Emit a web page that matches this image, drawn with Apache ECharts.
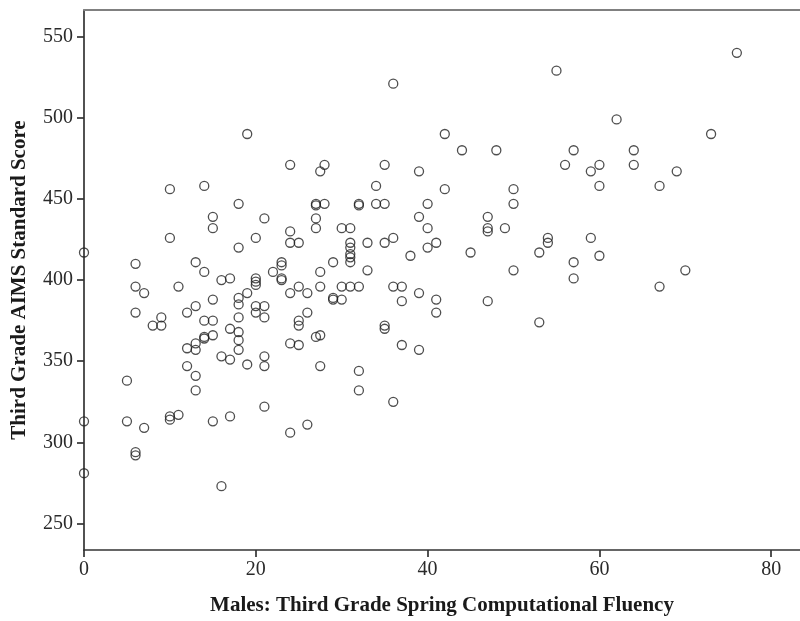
<!DOCTYPE html>
<html>
<head>
<meta charset="utf-8">
<script src="https://cdn.jsdelivr.net/npm/echarts@6/dist/echarts.min.js"></script>
<style>
  html, body { margin: 0; padding: 0; background: #fff; }
  #chart { width: 800px; height: 621px; }
</style>
</head>
<body>
<div id="chart"></div>
<script>
// Third grade spring computational fluency (males) vs. AIMS standard score
const fluency = [
  0, 0, 0,
  5, 5,
  6, 6, 6, 6, 6,
  7, 7,
  8,
  9, 9,
  10, 10, 10, 10,
  11, 11,
  12, 12, 12,
  13, 13, 13, 13, 13, 13,
  14, 14, 14, 14, 14,
  15, 15, 15, 15, 15, 15,
  16, 16, 16,
  17, 17, 17, 17,
  18, 18, 18, 18, 18, 18, 18, 18,
  19, 19, 19,
  20, 20, 20, 20, 20, 20,
  21, 21, 21, 21, 21, 21,
  22,
  23, 23, 23, 23,
  24, 24, 24, 24, 24, 24,
  25, 25, 25, 25, 25,
  26, 26, 26,
  27, 27, 27, 27, 27,
  27.5, 27.5, 27.5, 27.5, 27.5,
  28, 28,
  29, 29, 29,
  30, 30, 30,
  31, 31, 31, 31, 31, 31, 31,
  32, 32, 32, 32, 32,
  33, 33,
  34, 34,
  35, 35, 35, 35, 35,
  36, 36, 36, 36,
  37, 37, 37,
  38,
  39, 39, 39, 39,
  40, 40, 40,
  41, 41, 41,
  42, 42,
  44,
  45,
  47, 47, 47, 47,
  48,
  49,
  50, 50, 50,
  53, 53,
  54, 54,
  55,
  56,
  57, 57, 57,
  59, 59,
  60, 60, 60,
  62,
  64, 64,
  67, 67,
  69,
  70,
  73,
  76
];

const aimsScore = [
  417, 313, 281,
  338, 313,
  410, 396, 380, 294, 292,
  392, 309,
  372,
  377, 372,
  456, 426, 316, 314,
  396, 317,
  380, 358, 347,
  411, 384, 361, 357, 341, 332,
  458, 405, 375, 365, 364,
  439, 432, 388, 375, 366, 313,
  400, 353, 273,
  401, 370, 351, 316,
  447, 420, 389, 385, 377, 368, 363, 357,
  490, 392, 348,
  426, 401, 399, 397, 384, 380,
  438, 384, 377, 353, 347, 322,
  405,
  411, 409, 401, 400,
  471, 430, 423, 392, 361, 306,
  423, 396, 375, 372, 360,
  392, 380, 311,
  447, 446, 438, 432, 365,
  467, 405, 396, 366, 347,
  471, 447,
  411, 389, 388,
  432, 396, 388,
  432, 423, 420, 416, 414, 411, 396,
  447, 446, 396, 344, 332,
  423, 406,
  458, 447,
  471, 447, 423, 372, 370,
  521, 426, 396, 325,
  396, 387, 360,
  415,
  467, 439, 392, 357,
  447, 432, 420,
  423, 388, 380,
  490, 456,
  480,
  417,
  439, 432, 430, 387,
  480,
  432,
  456, 447, 406,
  417, 374,
  426, 423,
  529,
  471,
  480, 411, 401,
  467, 426,
  471, 458, 415,
  499,
  480, 471,
  458, 396,
  467,
  406,
  490,
  540
];

const xTicks = [0, 20, 40, 60, 80];
const yTicks = [250, 300, 350, 400, 450, 500, 550];

const xTitle = 'Males: Third Grade Spring Computational Fluency';
const yTitle = 'Third Grade AIMS Standard Score';

const points = fluency.map((x, i) => [x, aimsScore[i]]);

const serif = '"Liberation Serif", "DejaVu Serif", serif';
const axisLineStyle = { color: '#333333', width: 1.7 };
const X_MIN = 0, X_MAX = 83.35;

const chart = echarts.init(document.getElementById('chart'), null, { renderer: 'canvas' });
chart.setOption({
  animation: false,
  backgroundColor: '#ffffff',
  grid: { left: 84, right: 0, top: 10, bottom: 70, show: false },
  xAxis: [{
    type: 'value',
    min: X_MIN,
    max: X_MAX,
    name: xTitle,
    nameLocation: 'middle',
    nameGap: 45,
    nameTextStyle: { fontFamily: serif, fontWeight: 'bold', fontSize: 21, color: '#1a1a1a' },
    axisLine: { show: true, lineStyle: axisLineStyle },
    axisTick: { show: true, length: 7, customValues: xTicks, lineStyle: axisLineStyle },
    axisLabel: { customValues: xTicks, fontFamily: serif, fontSize: 20, color: '#2a2a2a', margin: 10 },
    splitLine: { show: false }
  }, {
    // top frame line of the plot box
    type: 'value',
    position: 'top',
    min: X_MIN,
    max: X_MAX,
    axisLine: { show: true, onZero: false, lineStyle: { color: '#808080', width: 2 } },
    axisTick: { show: false },
    axisLabel: { show: false },
    splitLine: { show: false }
  }],
  yAxis: {
    type: 'value',
    min: 233.7,
    max: 566.4,
    name: yTitle,
    nameLocation: 'middle',
    nameGap: 54,
    nameTextStyle: { fontFamily: serif, fontWeight: 'bold', fontSize: 21, color: '#1a1a1a' },
    axisLine: { show: true, lineStyle: axisLineStyle },
    axisTick: { show: true, length: 7, customValues: yTicks, lineStyle: axisLineStyle },
    axisLabel: { customValues: yTicks, fontFamily: serif, fontSize: 20, color: '#2a2a2a', margin: 11 },
    splitLine: { show: false }
  },
  series: [{
    type: 'scatter',
    xAxisIndex: 0,
    data: points,
    symbol: 'circle',
    symbolSize: 9,
    itemStyle: { color: 'rgba(0,0,0,0)', borderColor: '#222222', borderWidth: 1.3 },
    emphasis: { disabled: true }
  }]
});
</script>
</body>
</html>
